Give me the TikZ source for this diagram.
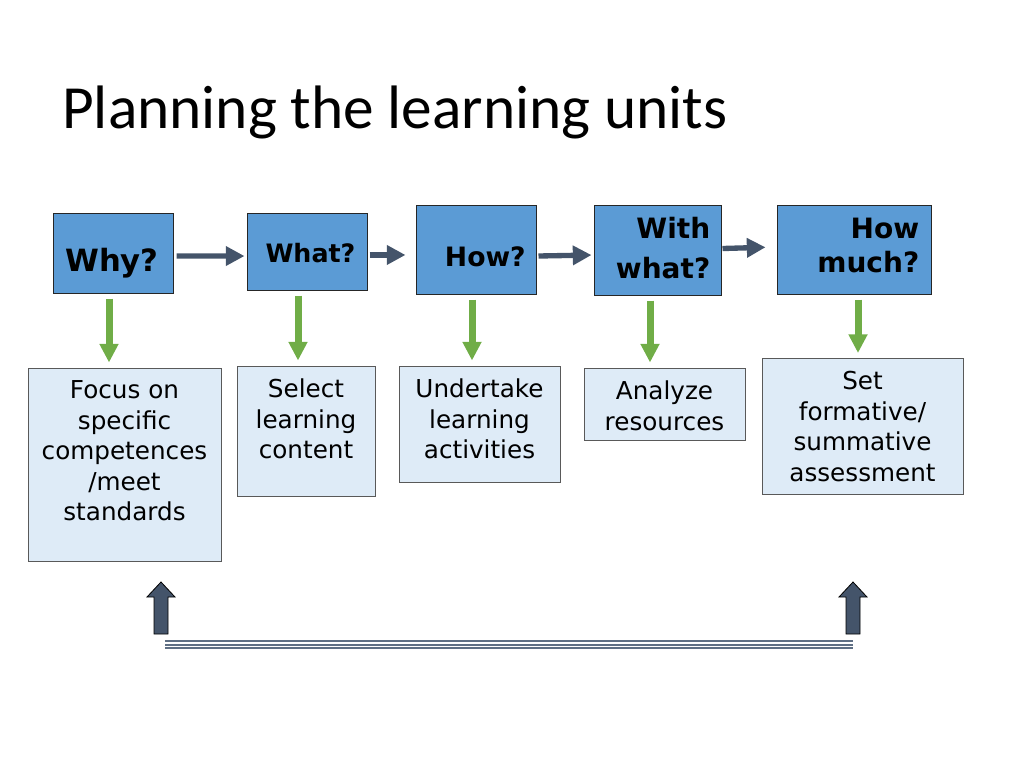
\documentclass[tikz,border=0pt]{standalone}
\usepackage{fontspec}
\setmainfont{DejaVu Sans}
\newfontfamily\titlefont{Carlito}
\usetikzlibrary{arrows.meta}
\definecolor{boxblue}{HTML}{5B9BD5}
\definecolor{boxpale}{HTML}{DEEBF7}
\definecolor{slate}{HTML}{44546A}
\definecolor{leaf}{HTML}{70AD47}
\definecolor{rail}{HTML}{5F6F84}

\begin{document}
\begin{tikzpicture}[x=0.75pt, y=-0.75pt,
  qbox/.style={draw=black!85, fill=boxblue, line width=0.75pt, inner sep=0pt},
  qtext/.style={font=\bfseries\fontsize{21}{30}\selectfont, inner sep=0pt, align=right},
  abox/.style={draw=black!65, fill=boxpale, line width=0.75pt, inner sep=0pt},
  atext/.style={font=\fontsize{18.5}{22.9}\selectfont, inner sep=0pt, align=center, anchor=north, yshift=-9.75pt},
  flow/.style={slate, line width=4pt, -{Triangle[length=14pt,width=14pt]}},
  down/.style={leaf, line width=5.25pt, -{Triangle[length=14pt,width=13.5pt]}, shorten <=3.75pt, shorten >=3.75pt},
  upblock/.style={fill=slate, draw=black, line width=0.6pt, line join=miter}]
\useasboundingbox (0,0) rectangle (1024,768);

\node[anchor=base west, inner sep=0pt, font=\titlefont\fontsize{46}{50}\selectfont] (title) at (62,128) {Planning the learning units};

% question boxes
\node[qbox, minimum width=90pt, minimum height=60pt,
  label={[qtext, font=\bfseries\fontsize{23}{28}\selectfont, xshift=-0.75pt, yshift=-7.5pt]center:Why?}] (why) at (113,253) {};
\node[qbox, minimum width=90pt, minimum height=57.75pt,
  label={[qtext, font=\bfseries\fontsize{19}{24}\selectfont, xshift=2.6pt, yshift=-1.5pt]center:What?}] (what) at (307,251.5) {};
\node[qbox, minimum width=90pt, minimum height=66.75pt,
  label={[qtext, font=\bfseries\fontsize{20}{24}\selectfont, xshift=7pt, yshift=-5.6pt]center:How?}] (how) at (476,249.5) {};
\node[qbox, minimum width=95.25pt, minimum height=67.5pt,
  label={[qtext, anchor=east, xshift=-8.25pt, yshift=1.1pt]east:{With\\what?}}] (with) at (657.5,250) {};
\node[qbox, minimum width=115.5pt, minimum height=66.75pt,
  label={[qtext, font=\bfseries\fontsize{21}{25.5}\selectfont, anchor=east, xshift=-9pt, yshift=3pt]east:{How\\much?}}] (much) at (854,249.5) {};

% answer boxes
\node[abox, minimum width=144.75pt, minimum height=144.75pt,
  label={[atext]north:{Focus on\\specific\\competences\\/meet\\standards}}] (focus) at (124.5,464.5) {};
\node[abox, minimum width=103.5pt, minimum height=97.5pt,
  label={[atext]north:{Select\\learning\\content}}] (select) at (306,431) {};
\node[abox, minimum width=120.75pt, minimum height=87pt,
  label={[atext]north:{Undertake\\learning\\activities}}] (undertake) at (479.5,424) {};
\node[abox, minimum width=120.75pt, minimum height=54pt,
  label={[atext]north:{Analyze\\resources}}] (analyze) at (664.5,404) {};
\node[abox, minimum width=150.75pt, minimum height=102pt,
  label={[atext]north:{Set\\formative/\\summative\\assessment}}] (set) at (862.5,426.5) {};

% sequence
\draw[flow, shorten <=2.25pt, shorten >=1.5pt] ([yshift=-2.25pt]why.east) -- ([yshift=-3.4pt]what.west);
\draw[flow, shorten <=1.5pt, shorten >=7.5pt] ([yshift=-2.6pt]what.east) -- ([yshift=-4.1pt]how.west);
\draw[flow, shorten <=1.5pt, shorten >=1.5pt] ([yshift=-4.9pt]how.east) -- ([yshift=-3.75pt]with.west);
\draw[flow, shorten <=0.75pt, shorten >=8.25pt] ([yshift=1.1pt]with.east) -- ([yshift=1.9pt]much.west);

\foreach \a/\b/\x [count=\i] in {why/focus/109, what/select/298, how/undertake/472, with/analyze/650, much/set/858} {
  \coordinate (g\i) at (\x,0);
  \draw[down] (g\i |- \a.south) -- (g\i |- \b.north);
}

% feedback rail
\coordinate (rl) at (165,644.5);
\coordinate (rr) at (853,644.5);
\foreach \d in {-2.6,0,2.6}
  \draw[rail, line width=1.5pt] ([yshift=\d pt]rl) -- ([yshift=\d pt]rr);
\foreach \x in {161,853}
  \draw[upblock] (\x-7,634) |- (\x-14,597) -- (\x,582) -- (\x+14,597) -| (\x+7,634) -- cycle;
\end{tikzpicture}
\end{document}
